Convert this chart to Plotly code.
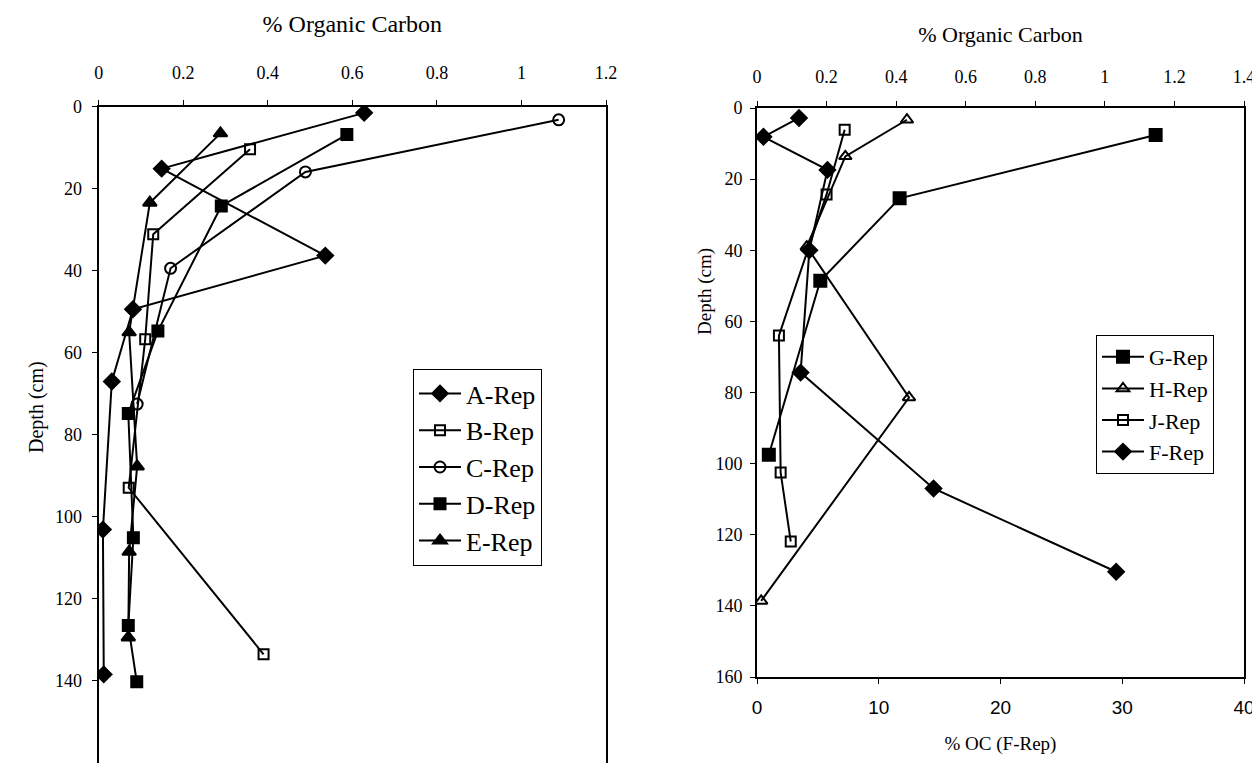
import plotly.graph_objects as go

# ---- Left panel data (% organic carbon vs depth) ----
A_oc = [0.628, 0.149, 0.536, 0.081, 0.031, 0.010, 0.012]
A_depth = [1.5, 15.1, 36.3, 49.4, 67.0, 103.1, 138.4]
B_oc = [0.358, 0.129, 0.110, 0.071, 0.390]
B_depth = [10.4, 31.1, 56.7, 92.9, 133.5]
C_oc = [1.088, 0.489, 0.170, 0.091]
C_depth = [3.2, 15.9, 39.4, 72.5]
D_oc = [0.587, 0.290, 0.140, 0.070, 0.082, 0.070, 0.090]
D_depth = [6.8, 24.2, 54.7, 74.8, 105.1, 126.5, 140.2]
E_oc = [0.288, 0.121, 0.072, 0.091, 0.072, 0.070]
E_depth = [6.5, 23.4, 55.0, 87.7, 108.5, 129.4]

# ---- Right panel data ----
G_oc = [1.146, 0.410, 0.182, 0.034]
G_depth = [7.6, 25.4, 48.6, 97.5]
H_oc = [0.431, 0.254, 0.143, 0.437, 0.012]
H_depth = [3.3, 13.6, 39.0, 81.4, 138.6]
J_oc = [0.252, 0.200, 0.063, 0.068, 0.097]
J_depth = [6.1, 24.3, 64.0, 102.5, 121.9]
F_oc = [3.45, 0.53, 5.79, 4.3, 3.58, 14.5, 29.5]  # % OC (F-Rep), bottom axis
F_depth = [2.8, 8.1, 17.4, 40.0, 74.4, 107.0, 130.4]

left_x_ticks = [0, 0.2, 0.4, 0.6, 0.8, 1, 1.2]
right_x_ticks = [0, 0.2, 0.4, 0.6, 0.8, 1, 1.2, 1.4]
f_ticks = [0, 10, 20, 30, 40]
depth_ticks = [0, 20, 40, 60, 80, 100, 120, 140, 160]

SERIF = "Liberation Serif"
SANS = "Liberation Sans"
OFF = 8  # page body margin
W, H = 1260 - OFF, 763 - OFF

fig = go.Figure()

def add(x, y, name, symbol, xa, ya, legend, size=9):
    fig.add_trace(go.Scatter(
        x=x, y=y, name=name, mode="lines+markers",
        line=dict(color="black", width=2),
        marker=dict(symbol=symbol, size=size, color="black",
                    line=dict(color="black", width=2)),
        xaxis=xa, yaxis=ya, legend=legend))

add(A_oc, A_depth, "A-Rep", "diamond", "x", "y", "legend", 12)
add(B_oc, B_depth, "B-Rep", "square-open", "x", "y", "legend", 10)
add(C_oc, C_depth, "C-Rep", "circle-open", "x", "y", "legend", 11)
add(D_oc, D_depth, "D-Rep", "square", "x", "y", "legend", 11)
add(E_oc, E_depth, "E-Rep", "triangle-up", "x", "y", "legend", 12)

add(G_oc, G_depth, "G-Rep", "square", "x2", "y2", "legend2", 12)
add(H_oc, H_depth, "H-Rep", "triangle-up-open", "x2", "y2", "legend2", 11)
add(J_oc, J_depth, "J-Rep", "square-open", "x2", "y2", "legend2", 10)
add(F_oc, F_depth, "F-Rep", "diamond", "x3", "y2", "legend2", 12)

def px_x(p):
    return (p - OFF) / W

def px_y(p):
    return 1 - (p - OFF) / H

axis_common = dict(showgrid=False, zeroline=False, showline=True,
                   linecolor="black", linewidth=2, mirror=True,
                   ticks="outside", ticklen=5, tickcolor="black",
                   tickwidth=1, automargin=False)

fig.update_layout(
    width=W, height=H,
    margin=dict(l=0, r=0, t=0, b=0, autoexpand=False),
    paper_bgcolor="white", plot_bgcolor="white",
    font=dict(family=SERIF, color="black", size=18),
    xaxis=dict(**axis_common, domain=[px_x(98.7), px_x(606)], side="top",
               anchor="y", range=[0, 1.2], tickvals=left_x_ticks,
               ticktext=[f"{v:g}" for v in left_x_ticks],
               tickfont=dict(family=SERIF, size=18),
               ticklabelstandoff=14,
               title=dict(text="% Organic Carbon", standoff=23,
                          font=dict(family=SERIF, size=24))),
    yaxis=dict(**axis_common, domain=[0, px_y(106.7)], anchor="x",
               range=[160, 0], tickvals=depth_ticks,
               tickfont=dict(family=SERIF, size=18),
               ticklabelstandoff=6),
    xaxis2=dict(**axis_common, domain=[px_x(757), px_x(1244)], side="top",
                anchor="y2", range=[0, 1.4], tickvals=right_x_ticks,
                ticktext=[f"{v:g}" for v in right_x_ticks],
                tickfont=dict(family=SERIF, size=18),
                ticklabelstandoff=11,
                title=dict(text="% Organic Carbon", standoff=18,
                           font=dict(family=SERIF, size=22))),
    xaxis3=dict(showgrid=False, zeroline=False, showline=True,
                linecolor="black", linewidth=2, automargin=False,
                ticks="outside", ticklen=5, tickcolor="black", tickwidth=1,
                overlaying="x2", side="bottom",
                anchor="y2", range=[0, 40], tickvals=f_ticks,
                tickfont=dict(family=SANS, size=19),
                ticklabelstandoff=7,
                title=dict(text="% OC (F-Rep)", standoff=20,
                           font=dict(family=SERIF, size=19))),
    yaxis2=dict(**axis_common, domain=[px_y(677), px_y(108)], anchor="x2",
                range=[160, 0], tickvals=depth_ticks,
                tickfont=dict(family=SERIF, size=18),
                ticklabelstandoff=4),
    legend=dict(x=px_x(413), y=px_y(369), xanchor="left", yanchor="top",
                bgcolor="white", bordercolor="black", borderwidth=1,
                font=dict(family=SERIF, size=26), tracegroupgap=0,
                itemwidth=42),
    legend2=dict(x=px_x(1096), y=px_y(335), xanchor="left", yanchor="top",
                 bgcolor="white", bordercolor="black", borderwidth=1,
                 font=dict(family=SERIF, size=22), itemwidth=42),
    showlegend=True,
    annotations=[
        dict(text="Depth (cm)", textangle=-90, showarrow=False,
             xref="paper", yref="paper", x=px_x(36), y=px_y(407),
             xanchor="center", yanchor="middle",
             font=dict(family=SERIF, size=20)),
        dict(text="Depth (cm)", textangle=-90, showarrow=False,
             xref="paper", yref="paper", x=px_x(705), y=px_y(292),
             xanchor="center", yanchor="middle",
             font=dict(family=SERIF, size=19)),
    ],
)

fig.write_html("out.html")
